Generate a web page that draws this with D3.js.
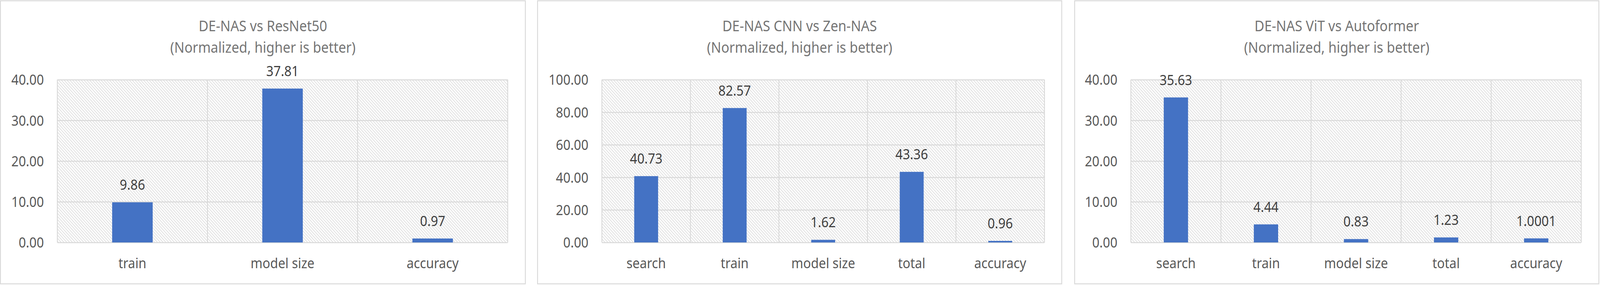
<!DOCTYPE html>
<html>
<head>
<meta charset="utf-8">
<script src="https://cdn.jsdelivr.net/npm/d3@7"></script>
<style>
  html, body { margin: 0; padding: 0; background: #fff; overflow: hidden; }
  svg { display: block; width: 100vw; height: 100vh; font-family: "Noto Sans", sans-serif; }
</style>
</head>
<body>
<!-- the window can come out narrower than 4519px, so the drawing is stretched to fill it -->
<svg id="chart" viewBox="0 0 4519 730" preserveAspectRatio="none"></svg>
<script>
// chart values
var titles = ['DE-NAS vs ResNet50', 'DE-NAS CNN vs Zen-NAS', 'DE-NAS ViT vs Autoformer'];
var subtitle = '(Normalized, higher is better)';

var resnetCategories = ['train', 'model size', 'accuracy'];
var resnetValues = [9.86, 37.81, 0.97];

var zenCategories = ['search', 'train', 'model size', 'total', 'accuracy'];
var zenValues = [40.73, 82.57, 1.62, 43.36, 0.96];

var autoCategories = ['search', 'train', 'model size', 'total', 'accuracy'];
var autoValues = [35.63, 4.44, 0.83, 1.23, 1.0001];

var resnetTicks = [0, 10, 20, 30, 40];
var zenTicks = [0, 20, 40, 60, 80, 100];
var autoTicks = [0, 10, 20, 30, 40];

// layout of the three panels (pixels)
var panels = [
  {left: 0,    width: 1485, plotLeft: 162,  plotRight: 1434, categories: resnetCategories, values: resnetValues, ticks: resnetTicks},
  {left: 1517, width: 1483, plotLeft: 1700, plotRight: 2950, categories: zenCategories,    values: zenValues,    ticks: zenTicks},
  {left: 3034, width: 1483, plotLeft: 3194, plotRight: 4466, categories: autoCategories,   values: autoValues,   ticks: autoTicks}
];

var constants = {
  top: 2, height: 725,
  plotTop: 204, plotBottom: 621,
  barFraction: 0.27,
  border: '#d9d9d9',
  grid: '#d9d9d9',
  hatch: '#dcdcdc',
  bar: '#4472c4',
  title: '#757575',
  axisText: '#595959',
  labelText: '#404040'
};

function formatValue(v) {
  var s = String(v);
  var dec = s.indexOf('.') < 0 ? 0 : s.length - s.indexOf('.') - 1;
  return v.toFixed(Math.max(2, dec));
}

var svg = d3.select('#chart');

// downward diagonal hatch for the plot area
var pattern = svg.append('defs').append('pattern')
  .attr('id', 'hatch')
  .attr('patternUnits', 'userSpaceOnUse')
  .attr('width', 8)
  .attr('height', 8);
pattern.append('rect').attr('width', 8).attr('height', 8).attr('fill', '#fff');
pattern.append('path')
  .attr('d', 'M-2,-2 L10,10 M-2,6 L2,10 M6,-2 L10,2')
  .attr('stroke', constants.hatch)
  .attr('stroke-width', 1.8);

panels.forEach(function(p, i) {
  var g = svg.append('g');

  // chart box
  g.append('rect')
    .attr('x', p.left + 1.25)
    .attr('y', constants.top)
    .attr('width', p.width - 2.5)
    .attr('height', constants.height)
    .attr('fill', '#fff')
    .attr('stroke', constants.border)
    .attr('stroke-width', 2.5);

  // title
  var cx = p.left + p.width / 2;
  var title = g.append('text')
    .attr('text-anchor', 'middle')
    .attr('fill', constants.title)
    .style('font-size', '38px');
  title.append('tspan').attr('x', cx).attr('y', 80).text(titles[i]);
  title.append('tspan').attr('x', cx).attr('y', 135).text(subtitle);

  var x = d3.scaleBand()
    .domain(p.categories)
    .range([p.plotLeft, p.plotRight])
    .padding(0);

  var y = d3.scaleLinear()
    .domain([p.ticks[0], p.ticks[p.ticks.length - 1]])
    .range([constants.plotBottom, constants.plotTop]);

  var plotW = p.plotRight - p.plotLeft;

  // plot background
  g.append('rect')
    .attr('x', p.plotLeft)
    .attr('y', constants.plotTop)
    .attr('width', plotW)
    .attr('height', constants.plotBottom - constants.plotTop)
    .attr('fill', 'url(#hatch)');

  // horizontal gridlines
  g.append('g')
    .attr('transform', 'translate(' + p.plotLeft + ',0)')
    .call(d3.axisLeft(y).tickValues(p.ticks).tickSize(-plotW).tickFormat(''))
    .call(function(a) {
      a.select('.domain').remove();
      a.selectAll('line').attr('stroke', constants.grid).attr('stroke-width', 2.5);
    });

  // vertical gridlines between categories
  var edges = p.categories.map(function(c) { return x(c); }).concat([p.plotRight]);
  g.append('g').selectAll('line')
    .data(edges)
    .enter()
    .append('line')
    .attr('x1', function(d) { return d; })
    .attr('x2', function(d) { return d; })
    .attr('y1', constants.plotTop)
    .attr('y2', constants.plotBottom)
    .attr('stroke', constants.grid)
    .attr('stroke-width', 2.5);

  // y axis labels
  g.append('g')
    .attr('transform', 'translate(' + p.plotLeft + ',0)')
    .call(d3.axisLeft(y).tickValues(p.ticks).tickSize(0).tickPadding(38).tickFormat(d3.format('.2f')))
    .call(function(a) {
      a.select('.domain').remove();
      a.selectAll('text')
        .attr('fill', constants.axisText)
        .attr('dy', '0.36em')
        .style('font-size', '36px')
        .style('font-family', '"Noto Sans", sans-serif');
    });

  // x axis labels
  g.append('g')
    .attr('transform', 'translate(0,' + constants.plotBottom + ')')
    .call(d3.axisBottom(x).tickSize(0))
    .call(function(a) {
      a.select('.domain').remove();
      a.selectAll('text')
        .attr('fill', constants.axisText)
        .attr('y', 66)
        .attr('dy', null)
        .style('font-size', '36px')
        .style('font-family', '"Noto Sans", sans-serif');
    });

  var bw = x.bandwidth() * constants.barFraction;

  // bars
  g.append('g').selectAll('rect')
    .data(p.values)
    .enter()
    .append('rect')
    .attr('x', function(d, j) { return x(p.categories[j]) + (x.bandwidth() - bw) / 2; })
    .attr('y', function(d) { return y(d); })
    .attr('width', bw)
    .attr('height', function(d) { return constants.plotBottom - y(d); })
    .attr('fill', constants.bar);

  // data labels
  g.append('g').selectAll('text')
    .data(p.values)
    .enter()
    .append('text')
    .attr('x', function(d, j) { return x(p.categories[j]) + x.bandwidth() / 2; })
    .attr('y', function(d) { return y(d) - 32; })
    .attr('text-anchor', 'middle')
    .attr('fill', constants.labelText)
    .style('font-size', '36px')
    .text(formatValue);
});
</script>
</body>
</html>
